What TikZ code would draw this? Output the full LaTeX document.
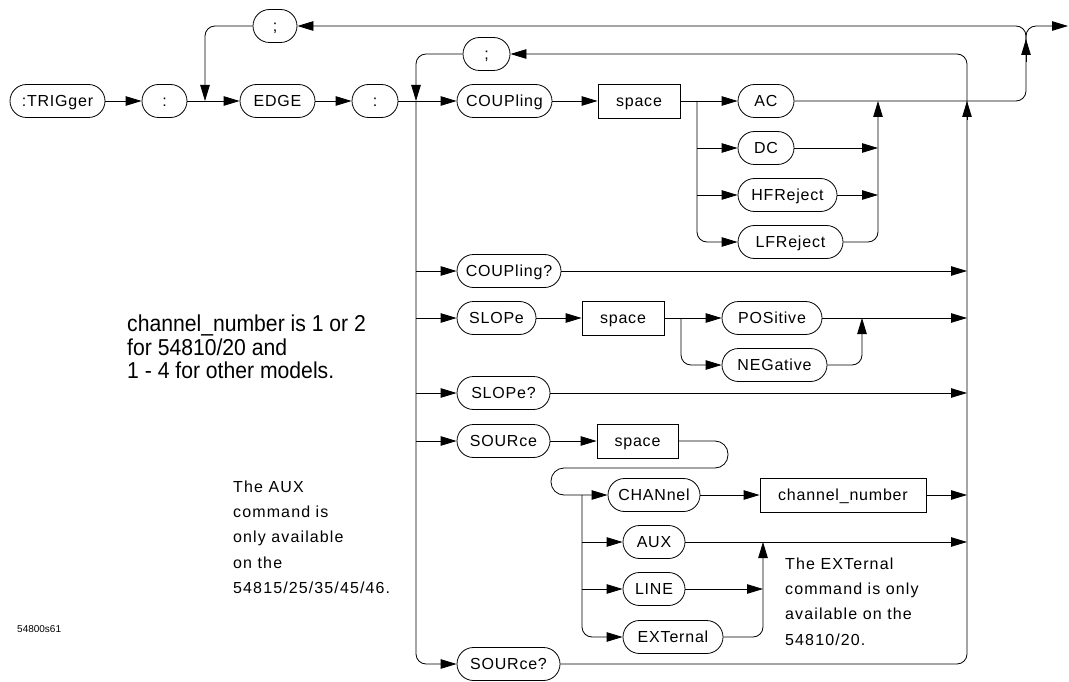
\documentclass[tikz,border=0pt]{standalone}
\usepackage{fontspec}
\setmainfont{Liberation Sans}
\newfontfamily\dfont{Liberation Sans}[LetterSpace=5]
\newfontfamily\nfont{Liberation Sans}[LetterSpace=7]
\newfontfamily\cfont{Liberation Sans}[FakeStretch=0.92]
\usetikzlibrary{arrows.meta}
\begin{document}
\begin{tikzpicture}[x=1pt,y=-1pt,
  arr/.style={line width=0.8pt,-{Triangle[length=16pt,width=9.5pt]}},
  ln/.style={line width=0.8pt},
  kw/.style={draw,line width=0.8pt,rounded corners=16.5pt,minimum height=33pt,inner sep=0pt,text height=12pt,text depth=1pt,font=\dfont\fontsize{16}{18}\selectfont},
  bx/.style={draw,line width=0.8pt,minimum height=34pt,inner sep=0pt,text height=12pt,text depth=1pt,font=\dfont\fontsize{16}{18}\selectfont},
  note/.style={anchor=north west,align=left,inner sep=0pt,font=\nfont\fontsize{16}{25.3}\selectfont},
]
\useasboundingbox (0,0) rectangle (1069,682);
% nodes
\node[kw,minimum width=95] (trig) at (57.5,101) {:TRIGger};
\node[kw,minimum width=45] (c1) at (164.5,101) {:};
\node[kw,minimum width=75] (edge) at (277.5,101) {EDGE};
\node[kw,minimum width=46] (c2) at (375,101) {:};
\node[kw,minimum width=44] (semiT) at (275,26) {;};
\node[kw,minimum width=47] (semiI) at (486.5,54) {;};
\node[kw,minimum width=95] (coup) at (504.5,101) {COUPling};
\node[bx,minimum width=82] (sp1) at (639,101) {space};
\node[kw,minimum width=56] (ac) at (766,101) {AC};
\node[kw,minimum width=56] (dc) at (766,148) {DC};
\node[kw,minimum width=99] (hf) at (787.5,195) {HFReject};
\node[kw,minimum width=105] (lf) at (790.5,242) {LFReject};
\node[kw,minimum width=104] (cq) at (509,271) {COUPling?};
\node[kw,minimum width=79] (sl) at (496.5,318) {SLOPe};
\node[bx,minimum width=82] (sp2) at (623,318) {space};
\node[kw,minimum width=100] (pos) at (772,318) {POSitive};
\node[kw,minimum width=105] (neg) at (774.5,365) {NEGative};
\node[kw,minimum width=93] (sq) at (503.5,393) {SLOPe?};
\node[kw,minimum width=93] (so) at (503.5,441) {SOURce};
\node[bx,minimum width=81] (sp3) at (637.5,441) {space};
\node[kw,minimum width=92] (chan) at (654,495) {CHANnel};
\node[bx,minimum width=166] (chnum) at (843,495) {channel\_number};
\node[kw,minimum width=62] (aux) at (654,542) {AUX};
\node[kw,minimum width=62] (lin) at (654,589) {LINE};
\node[kw,minimum width=100] (ext) at (673,637) {EXTernal};
\node[kw,minimum width=103] (soq) at (508.5,664) {SOURce?};
% coordinates
\coordinate (J1) at (205,101);
\coordinate (LB) at (416,101);
\coordinate (RB) at (967,101);
\coordinate (RBu) at (967,120);
\coordinate (OV) at (1026,101);
\coordinate (OVa) at (1026,62);
\coordinate (OVb) at (1026,39);
\coordinate (OVc) at (1026,50);
\coordinate (exit) at (1068,26);
\coordinate (B1) at (697,101);
\coordinate (M1) at (878,101);
\coordinate (B2) at (681,318);
\coordinate (M2) at (862,318);
\coordinate (B3) at (582,495);
\coordinate (M3) at (763,542);
\coordinate (S1) at (728,441);
\coordinate (S2) at (728,468);
\coordinate (S3) at (551,468);
\coordinate (S4) at (551,495);
% main row
\draw[arr] (trig) -- (c1);
\draw[arr] (c1) -- (edge);
\draw[arr] (edge) -- (c2);
\draw[arr] (c2) -- (coup);
% outer loop and exit
\draw[arr,rounded corners=10pt] (ac.east) -| (OV |- semiT) -- (semiT.east);
\draw[arr,rounded corners=10pt] (semiT.west) -| (J1);
\draw[arr,rounded corners=10pt] (OVc) |- (exit);
\draw[arr] (OVa) -- (OVb);
% inner loop and buses
\draw[arr,rounded corners=10pt] (soq.east) -| (RB |- semiI) -- (semiI.east);
\draw[arr,rounded corners=10pt] (semiI.west) -| (LB);
\draw[arr,rounded corners=10pt] (LB) |- (soq.west);
\draw[arr] (RBu) -- (RB);
\foreach \n in {cq,sl,sq,so} \draw[arr] (LB |- \n) -- (\n.west);
\foreach \n in {cq,pos,sq,chnum,aux} \draw[arr] (\n.east) -- (RB |- \n);
% coupling
\draw[arr] (coup) -- (sp1);
\draw[arr] (sp1) -- (ac);
\draw[arr,rounded corners=10pt] (B1) |- (lf.west);
\draw[arr] (B1 |- dc) -- (dc.west);
\draw[arr] (B1 |- hf) -- (hf.west);
\draw[arr] (dc.east) -- (M1 |- dc);
\draw[arr] (hf.east) -- (M1 |- hf);
\draw[arr,rounded corners=10pt] (lf.east) -| (M1);
% slope
\draw[arr] (sl) -- (sp2);
\draw[arr] (sp2) -- (pos);
\draw[arr,rounded corners=10pt] (B2) |- (neg.west);
\draw[arr,rounded corners=10pt] (neg.east) -| (M2);
% source
\draw[arr] (so) -- (sp3);
\draw[arr,rounded corners=13pt] (sp3.east) -- (S1) -- (S2) -- (S3) -- (S4) -- (chan.west);
\draw[arr,rounded corners=10pt] (B3) |- (ext.west);
\draw[arr] (B3 |- aux) -- (aux.west);
\draw[arr] (B3 |- lin) -- (lin.west);
\draw[arr] (chan) -- (chnum);
\draw[arr] (lin.east) -- (M3 |- lin);
\draw[arr,rounded corners=10pt] (ext.east) -| (M3);
% notes
\node[note] (n1) at (233,480.5) {The AUX\\command is\\only available\\on the\\54815/25/35/45/46.};
\node[note] (n2) at (785,557.5) {The EXTernal\\command is only\\available on the\\54810/20.};
\node[anchor=north west,align=left,inner sep=0pt,font=\cfont\fontsize{23}{23.3}\selectfont] (n3) at (127,315) {channel\_number is 1 or 2\\for 54810/20 and\\1 - 4 for other models.};
\node[anchor=base west,inner sep=0pt,font=\fontsize{10}{12}\selectfont] (n4) at (17,632) {54800s61};
\end{tikzpicture}
\end{document}
